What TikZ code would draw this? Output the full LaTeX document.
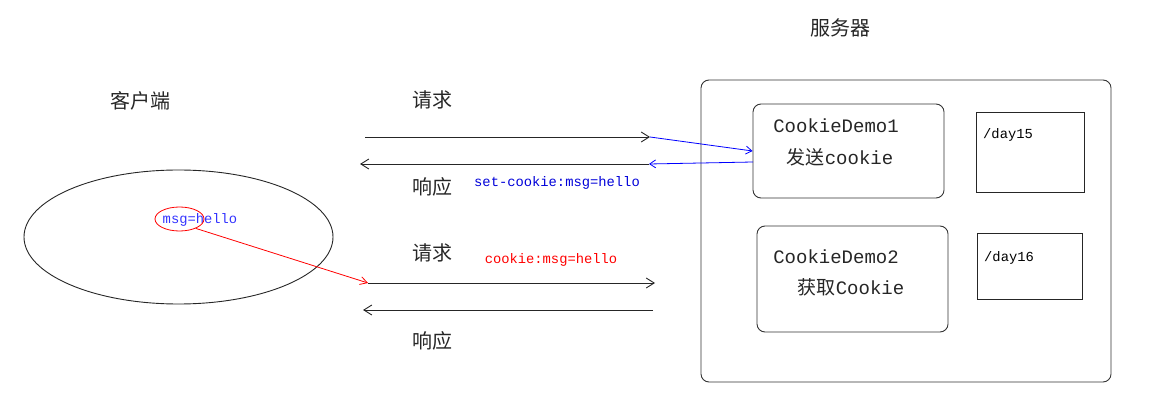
\documentclass[tikz,border=0pt]{standalone}
\usepackage{fontspec}
\setmonofont{Liberation Mono}
\newfontfamily\cjk{Noto Sans CJK SC}
\usetikzlibrary{arrows.meta,shapes.geometric}
\begin{document}
\begin{tikzpicture}[x=1pt,y=-1pt,
  roundbox/.style={draw=black!80, line width=0.9pt, rounded corners=8pt, inner sep=0pt},
  plainbox/.style={draw=black!85, line width=0.9pt, inner sep=0pt},
  flow/.style={draw=black!85, line width=0.9pt, -{Straight Barb[length=8pt,width=10pt,line width=0.9pt]}},
  blueflow/.style={draw=blue, line width=0.8pt, -{Straight Barb[length=6pt,width=8pt,line width=0.8pt]}},
  redflow/.style={draw=red, line width=0.8pt, -{Straight Barb[length=7pt,width=8pt,line width=0.8pt]}},
  zh/.style={font=\cjk\fontsize{20}{24}\selectfont, text=black!85, inner sep=0pt},
  demo/.style={font=\fontsize{19}{22}\selectfont, text=black!85, inner sep=0pt},
  code/.style={font=\ttfamily\fontsize{13.8}{16}\selectfont, inner sep=0pt}
]
\useasboundingbox (0,0) rectangle (1166,403);

% client side
\node[zh] (clientlbl) at (140,101) {客户端};
\node[draw=black!85, line width=0.9pt, ellipse, minimum width=309pt, minimum height=134pt] (client) at (178.5,237) {};
\node[code, text=blue!80] (cookieval) at (200,220) {msg=hello};
\node[draw=red, line width=0.8pt, ellipse, minimum width=49pt, minimum height=24pt, inner sep=0pt] (msgring) at (179.5,219) {};

% server side
\node[zh] (serverlbl) at (840,28) {服务器};
\node[roundbox, minimum width=410pt, minimum height=302pt] (server) at (906,231) {};
\node[roundbox, minimum width=191pt, minimum height=94pt] (demo1) at (848.5,151) {};
\node[demo] (demo1a) at (836,126) {\ttfamily CookieDemo1};
\node[demo] (demo1b) at (840,157) {{\cjk 发送}\ttfamily cookie};
\node[plainbox, minimum width=108pt, minimum height=80pt] (day15) at (1030,152) {};
\node[code, anchor=west] (day15lbl) at (983,135) {/day15};
\node[roundbox, minimum width=191pt, minimum height=106pt] (demo2) at (852.5,279) {};
\node[demo] (demo2a) at (836,257) {\ttfamily CookieDemo2};
\node[demo] (demo2b) at (851,287) {{\cjk 获取}\ttfamily Cookie};
\node[plainbox, minimum width=105pt, minimum height=66pt] (day16) at (1029.5,266) {};
\node[code, anchor=west] (day16lbl) at (984,258) {/day16};

% first exchange: the cookie is set
\node[zh] (req1lbl) at (432,100) {请求};
\coordinate (req1s) at (365,137);
\coordinate (req1e) at (650,137);
\draw[flow] (req1s) -- (req1e);
\draw[blueflow] (req1e) -- (demo1.west);
\coordinate (resp1s) at (649,164);
\coordinate (resp1e) at (360,164);
\coordinate (setsrc) at (753,162);
\draw[flow] (resp1s) -- (resp1e);
\draw[blueflow] (setsrc) -- (resp1s);
\node[zh] (resp1lbl) at (432,187) {响应};
\node[code, text=blue!85!black] (setlbl) at (557,183) {set-cookie:msg=hello};

% second exchange: the cookie is sent back
\node[zh] (req2lbl) at (432,253) {请求};
\node[code, text=red] (sendlbl) at (551,260) {cookie:msg=hello};
\coordinate (req2s) at (368,283);
\coordinate (req2e) at (655,283);
\draw[flow] (req2s) -- (req2e);
\coordinate (resp2s) at (653,310);
\coordinate (resp2e) at (363,310);
\draw[flow] (resp2s) -- (resp2e);
\node[zh] (resp2lbl) at (432,341) {响应};
\draw[redflow] (msgring.-30) -- (req2s);
\end{tikzpicture}
\end{document}
